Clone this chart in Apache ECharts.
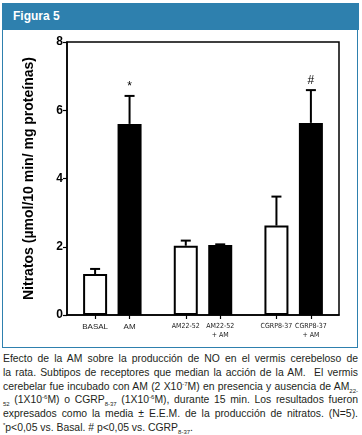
<!DOCTYPE html>
<html>
<head>
<meta charset="utf-8">
<script src="https://cdn.jsdelivr.net/npm/echarts@6/dist/echarts.min.js"></script>
<style>
    body { margin: 0; width: 362px; height: 435px; background: #fff; position: relative; overflow: hidden; font-family: Arial, "Liberation Sans", sans-serif; }
    #head { position: absolute; left: 2px; top: 3px; width: 357px; height: 27px; background: #2e80ae; color: #fff; font-weight: bold; font-size: 12px; line-height: 27px; box-sizing: border-box; padding-left: 11px; }
    #panel { position: absolute; left: 2px; top: 30px; width: 356px; height: 318px; border: 1px solid #2e80ae; border-top: none; box-sizing: border-box; }
    #chart { position: absolute; left: 0; top: 0; width: 362px; height: 350px; }
    #caption { position: absolute; left: 3px; top: 352px; width: 355px; font-size: 10.4px; line-height: 13.8px; color: #231f20; }
    #caption div { text-align: justify; text-align-last: justify; }
    #caption div.last { text-align-last: left; }
    #caption sub, #caption sup { font-size: 6px; line-height: 0; }
</style>
</head>
<body>
<div id="head">Figura 5</div>
<div id="panel"></div>
<div id="chart"></div>
<div id="caption">
    <div>Efecto de la AM sobre la producción de NO en el vermis cerebeloso de</div>
    <div>la rata. Subtipos de receptores que median la acción de la AM.&nbsp; El vermis</div>
    <div>cerebelar fue incubado con AM (2 X10<sup>-7</sup>M) en presencia y ausencia de AM<sub>22-</sub></div>
    <div><sub>52</sub> (1X10<sup>-6</sup>M) o CGRP<sub>8-37</sub> (1X10<sup>-6</sup>M), durante 15 min. Los resultados fueron</div>
    <div>expresados como la media ± E.E.M. de la producción de nitratos. (N=5).</div>
    <div class="last"><sup>*</sup>p&lt;0,05 vs. Basal. # p&lt;0,05 vs. CGRP<sub>8-37</sub>.</div>
</div>
<script>
// ---- data
const groups = ['BASAL', 'AM22-52', 'CGRP8-37'];
const labels = ['BASAL', 'AM', 'AM22-52', 'AM22-52\n+ AM', 'CGRP8-37', 'CGRP8-37\n+ AM'];
const controlMean = [1.2, 2.03, 2.62];
const controlSem = [0.15, 0.15, 0.85];
const amMean = [5.6, 2.05, 5.63];
const amSem = [0.82, 0.02, 0.96];
const amMarks = ['*', '', '#'];

// offset of each bar from its group centre (axis units)
const half = 0.19;

let ticks = [];
groups.forEach(function (g, i) {
    ticks.push(i - half, i + half);
});

function labelFor(val) {
    for (let i = 0; i < ticks.length; i++) {
        if (Math.abs(ticks[i] - val) < 1e-6) {
            // first pair is set a bit larger in the original
            return i < 2 ? '{big|' + labels[i] + '}' : '{small|' + labels[i].replace('\n', '}\n{small|') + '}';
        }
    }
    return '';
}

let whiteData = [], blackData = [], errData = [];
groups.forEach(function (g, i) {
    whiteData.push([i - half, controlMean[i]]);
    blackData.push([i + half, amMean[i]]);
    errData.push([i - half, controlMean[i], controlSem[i], '']);
    errData.push([i + half, amMean[i], amSem[i], amMarks[i]]);
});

var chart = echarts.init(document.getElementById('chart'));
option = {
    backgroundColor: 'transparent',
    animation: false,
    grid: {
        left: 67,
        top: 42,
        right: 23,
        bottom: 35,
        show: true,
        borderColor: '#000',
        borderWidth: 1.5
    },
    xAxis: {
        type: 'value',
        min: -0.5,
        max: 2.5,
        splitLine: { show: false },
        axisLine: { show: true, onZero: false, lineStyle: { color: '#000', width: 1.5 } },
        axisTick: {
            show: true,
            length: 4,
            customValues: ticks,
            lineStyle: { color: '#000', width: 1.2 }
        },
        axisLabel: {
            customValues: ticks,
            formatter: labelFor,
            hideOverlap: false,
            showMaxLabel: true,
            showMinLabel: true,
            color: '#222',
            margin: 7,
            rich: {
                big: { fontSize: 8, lineHeight: 10, fontFamily: 'Arial', color: '#222' },
                small: { fontSize: 7, lineHeight: 9, fontFamily: '"Liberation Sans Narrow", "DejaVu Sans Condensed", Arial', color: '#222' }
            }
        }
    },
    yAxis: {
        type: 'value',
        min: 0,
        max: 8,
        interval: 2,
        name: 'Nitratos (µmol/10 min/ mg proteínas)',
        nameLocation: 'middle',
        nameGap: 31,
        nameTextStyle: {
            color: '#000',
            fontWeight: 'bold',
            fontSize: 14,
            fontFamily: 'Arial'
        },
        splitLine: { show: false },
        axisLine: { show: true, onZero: false, lineStyle: { color: '#000', width: 1.5 } },
        axisTick: { show: true, length: 4, lineStyle: { color: '#000', width: 1.2 } },
        axisLabel: {
            color: '#000',
            fontWeight: 'bold',
            fontSize: 12,
            margin: 4,
            fontFamily: 'Arial'
        }
    },
    series: [{
            name: 'control',
            type: 'bar',
            barWidth: 24,
            barGap: '-100%',
            data: whiteData,
            itemStyle: { color: '#fff', borderColor: '#000', borderWidth: 2 }
        },
        {
            name: '+ AM',
            type: 'bar',
            barWidth: 24,
            barGap: '-100%',
            data: blackData,
            itemStyle: { color: '#000', borderColor: '#000', borderWidth: 2 }
        },
        {
            name: 'sem',
            type: 'custom',
            z: 5,
            data: errData,
            renderItem: function (params, api) {
                let x = api.value(0);
                let base = api.coord([x, api.value(1)]);
                let top = api.coord([x, api.value(1) + api.value(2)]);
                let mark = errData[params.dataIndex][3];
                let children = [{
                        type: 'line',
                        shape: { x1: base[0], y1: base[1], x2: top[0], y2: top[1] },
                        style: { stroke: '#000', lineWidth: 2 }
                    },
                    {
                        type: 'line',
                        shape: { x1: top[0] - 5, y1: top[1], x2: top[0] + 5, y2: top[1] },
                        style: { stroke: '#000', lineWidth: 2 }
                    }
                ];
                if (mark) {
                    children.push({
                        type: 'text',
                        x: top[0],
                        y: top[1] - 3,
                        style: {
                            text: mark,
                            fill: '#000',
                            font: '12px Arial',
                            align: 'center',
                            verticalAlign: 'bottom'
                        }
                    });
                }
                return { type: 'group', children: children };
            }
        }
    ]
};
chart.setOption(option);
</script>
</body>
</html>
